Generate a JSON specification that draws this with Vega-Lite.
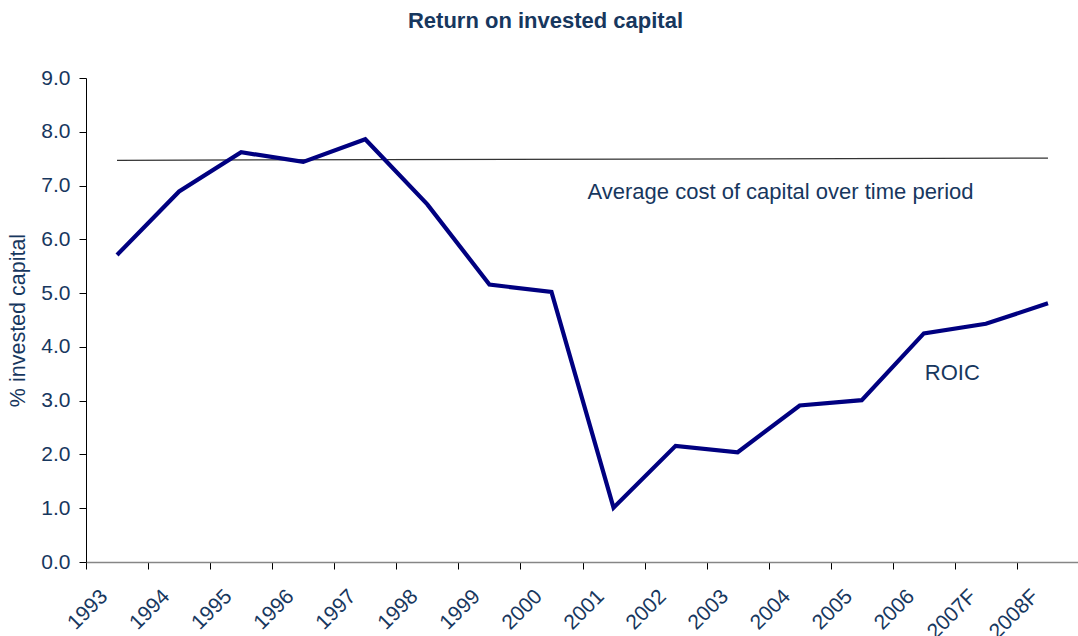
{
  "$schema": "https://vega.github.io/schema/vega-lite/v6.json",
  "width": 993,
  "height": 484,
  "autosize": "none",
  "padding": {"left": 86, "top": 78, "right": 0, "bottom": 74},
  "background": "white",
  "title": {
    "text": "Return on invested capital",
    "font": "Liberation Sans",
    "fontSize": 22,
    "fontWeight": "bold",
    "color": "#17375e",
    "anchor": "middle",
    "frame": "group",
    "dx": -37,
    "dy": -34,
    "offset": 0
  },
  "config": {
    "view": {"stroke": null},
    "font": "Liberation Sans",
    "axis": {"grid": false}
  },
  "datasets": {
    "roic": [
      {"year": "1993", "value": 5.71},
      {"year": "1994", "value": 6.89},
      {"year": "1995", "value": 7.62},
      {"year": "1996", "value": 7.44},
      {"year": "1997", "value": 7.86},
      {"year": "1998", "value": 6.65},
      {"year": "1999", "value": 5.16},
      {"year": "2000", "value": 5.02},
      {"year": "2001", "value": 1.01},
      {"year": "2002", "value": 2.16},
      {"year": "2003", "value": 2.04},
      {"year": "2004", "value": 2.91},
      {"year": "2005", "value": 3.01},
      {"year": "2006", "value": 4.25},
      {"year": "2007F", "value": 4.43},
      {"year": "2008F", "value": 4.81}
    ],
    "avg": [
      {"year": "1993", "value": 7.47},
      {"year": "2008F", "value": 7.51}
    ],
    "avgLabel": [
      {"year": "2001", "value": 6.753, "label": "Average cost of capital over time period"}
    ],
    "roicLabel": [
      {"year": "2006", "value": 3.383, "label": "ROIC"}
    ]
  },
  "encoding": {
    "x": {
      "field": "year",
      "type": "ordinal",
      "scale": {
        "type": "band",
        "paddingInner": 0,
        "paddingOuter": 0,
        "domain": ["1993", "1994", "1995", "1996", "1997", "1998", "1999", "2000", "2001", "2002", "2003", "2004", "2005", "2006", "2007F", "2008F"]
      },
      "axis": {
        "title": null,
        "tickBand": "extent",
        "domainColor": "#868686",
        "domainWidth": 1.5,
        "tickColor": "#000000",
        "tickSize": 7,
        "labelAngle": -45,
        "labelAlign": "right",
        "labelBaseline": "middle",
        "labelOffset": -13,
        "labelPadding": 24,
        "labelFontSize": 21,
        "labelColor": "#17375e",
        "labelFont": "Liberation Sans"
      }
    },
    "y": {
      "field": "value",
      "type": "quantitative",
      "scale": {"domain": [0, 9], "nice": false},
      "axis": {
        "title": "% invested capital",
        "titleFont": "Liberation Sans",
        "titleFontSize": 21.5,
        "titleFontWeight": "normal",
        "titleColor": "#17375e",
        "titlePadding": 11,
        "values": [0, 1, 2, 3, 4, 5, 6, 7, 8, 9],
        "format": ".1f",
        "domainColor": "#000000",
        "tickColor": "#000000",
        "tickSize": 7,
        "labelPadding": 9,
        "labelFontSize": 21,
        "labelColor": "#17375e",
        "labelFont": "Liberation Sans"
      }
    }
  },
  "layer": [
    {
      "data": {"name": "avg"},
      "mark": {"type": "line", "color": "#333333", "strokeWidth": 1.3}
    },
    {
      "data": {"name": "roic"},
      "mark": {"type": "line", "color": "#000080", "strokeWidth": 4.2, "strokeJoin": "miter"}
    },
    {
      "data": {"name": "avgLabel"},
      "mark": {"type": "text", "align": "left", "baseline": "alphabetic", "fontSize": 22, "color": "#17375e", "font": "Liberation Sans", "dx": -26},
      "encoding": {"text": {"field": "label"}}
    },
    {
      "data": {"name": "roicLabel"},
      "mark": {"type": "text", "align": "left", "baseline": "alphabetic", "fontSize": 22, "color": "#17375e", "font": "Liberation Sans", "dx": 1},
      "encoding": {"text": {"field": "label"}}
    }
  ]
}
